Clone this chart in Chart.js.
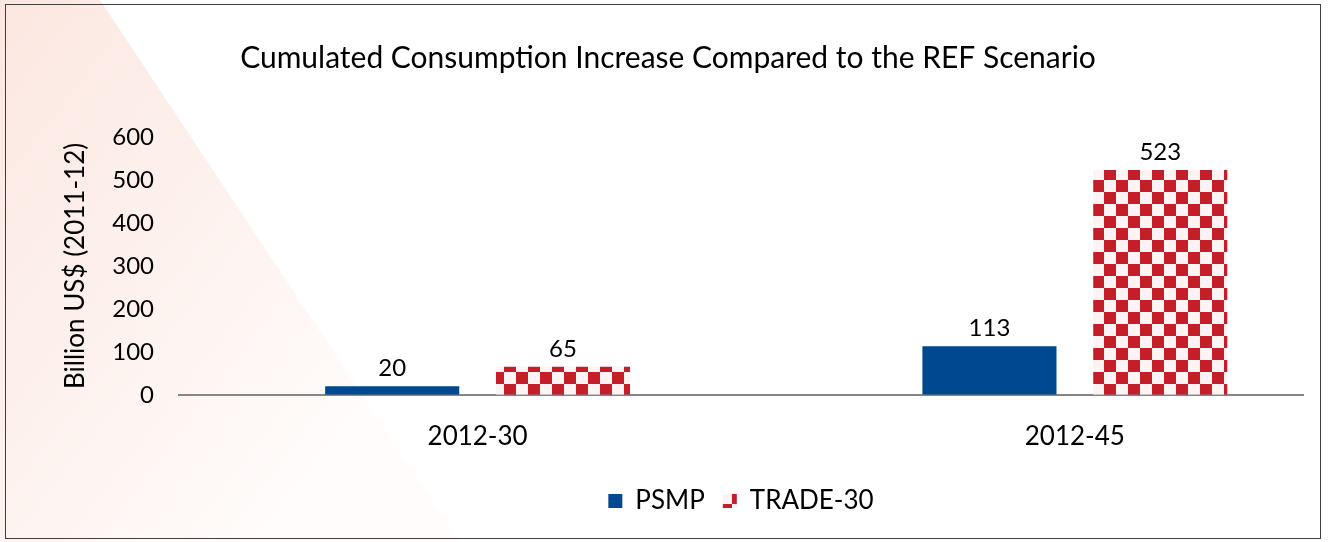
<!DOCTYPE html>
<html>
<head>
<meta charset="utf-8">
<script src="https://cdn.jsdelivr.net/npm/chart.js@4.4.1/dist/chart.umd.min.js"></script>
<style>
    html, body { margin: 0; padding: 0; background: #ffffff; }
    #wrap { position: relative; width: 1328px; height: 542px; }
    #frame { position: absolute; left: 5px; top: 4px; width: 1314px; height: 533px; border: 1px solid #404040; pointer-events: none; }
</style>
</head>
<body>
<div id="wrap">
    <canvas id="consumptionChart" width="1328" height="542"></canvas>
    <div id="frame"></div>
</div>
<script>
// Chart data
const periods = ['2012-30', '2012-45'];
const psmpValues = [20, 113];
const tradeValues = [65, 523];
const yTicks = [0, 100, 200, 300, 400, 500, 600];

const fontFamily = 'Lato, "Open Sans", sans-serif';

// Red / white checkerboard fill like the Excel pattern
function makeChecker() {
    const c = document.createElement('canvas');
    c.width = 24;
    c.height = 24;
    const g = c.getContext('2d');
    g.fillStyle = '#fdf3f3';
    g.fillRect(0, 0, 24, 24);
    g.fillStyle = '#c41e2a';
    g.fillRect(0, 0, 12, 12);
    g.fillRect(12, 12, 12, 12);
    return g.createPattern(c, 'repeat');
}

// Pale pink diagonal wash in the left corner, fading to the bottom right
const backgroundWash = {
    id: 'backgroundWash',
    beforeDraw(chart) {
        const ctx = chart.ctx;
        ctx.save();
        const grad = ctx.createLinearGradient(0, 0, 430, 330);
        grad.addColorStop(0, 'rgb(252, 231, 224)');
        grad.addColorStop(0.5, 'rgb(253, 241, 237)');
        grad.addColorStop(1, 'rgb(255, 252, 251)');
        ctx.fillStyle = grad;
        ctx.beginPath();
        ctx.moveTo(0, 0);
        ctx.lineTo(100, 0);
        ctx.lineTo(460, 542);
        ctx.lineTo(0, 542);
        ctx.closePath();
        ctx.fill();
        ctx.restore();
    }
};

// Values above the bars
const valueLabels = {
    id: 'valueLabels',
    afterDatasetsDraw(chart) {
        const ctx = chart.ctx;
        ctx.save();
        ctx.font = '24px ' + fontFamily;
        ctx.fillStyle = '#000000';
        ctx.textAlign = 'center';
        ctx.textBaseline = 'bottom';
        chart.data.datasets.forEach((ds, i) => {
            chart.getDatasetMeta(i).data.forEach((bar, j) => {
                ctx.fillText(ds.data[j].y, bar.x, bar.y - 6);
            });
        });
        ctx.restore();
    }
};

const checker = makeChecker();

new Chart(document.getElementById('consumptionChart'), {
    type: 'bar',
    data: {
        datasets: [{
            label: 'PSMP',
            data: psmpValues.map((v, i) => ({ x: i, y: v })),
            backgroundColor: '#004890',
            barPercentage: 0.785,
            categoryPercentage: 0.572
        }, {
            label: 'TRADE-30',
            data: tradeValues.map((v, i) => ({ x: i, y: v })),
            backgroundColor: checker,
            barPercentage: 0.785,
            categoryPercentage: 0.572
        }]
    },
    options: {
        responsive: false,
        animation: false,
        layout: {
            padding: { left: 33, right: 25, top: 0, bottom: 18 }
        },
        plugins: {
            title: {
                display: true,
                text: 'Cumulated Consumption Increase Compared to the REF Scenario',
                color: '#000000',
                font: { family: fontFamily, size: 30, weight: 'normal' },
                padding: { top: 40, bottom: 61 }
            },
            legend: {
                position: 'bottom',
                fullSize: false,
                labels: {
                    color: '#000000',
                    font: { family: fontFamily, size: 26 },
                    boxWidth: 14,
                    boxHeight: 14,
                    padding: 18
                }
            },
            tooltip: { enabled: false }
        },
        scales: {
            x: {
                type: 'linear',
                offset: false,
                min: -0.5,
                max: 1.382,
                afterBuildTicks(axis) {
                    axis.ticks = periods.map((p, i) => ({ value: i }));
                },
                grid: { display: false },
                border: { color: '#868686', width: 2 },
                ticks: {
                    color: '#000000',
                    font: { family: fontFamily, size: 26 },
                    padding: 18,
                    callback: (v) => periods[v]
                }
            },
            y: {
                min: 0,
                max: 600,
                afterBuildTicks(axis) {
                    axis.ticks = yTicks.map(v => ({ value: v }));
                },
                afterFit(axis) {
                    axis.width = 146;
                },
                grid: { display: false },
                border: { display: false },
                ticks: {
                    color: '#000000',
                    font: { family: fontFamily, size: 24 },
                    padding: 17
                },
                title: {
                    display: true,
                    text: 'Billion US$ (2011-12)',
                    color: '#000000',
                    font: { family: fontFamily, size: 26 },
                    padding: { top: 27, bottom: 4 }
                }
            }
        }
    },
    plugins: [backgroundWash, valueLabels]
});
</script>
</body>
</html>
